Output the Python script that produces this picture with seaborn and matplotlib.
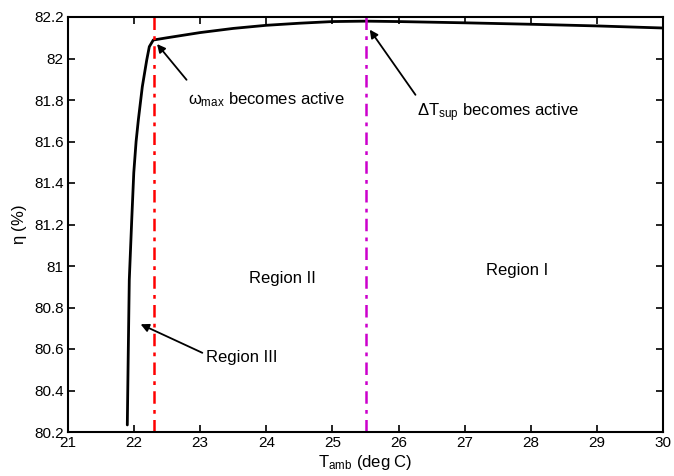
import matplotlib
matplotlib.use("Agg")
import matplotlib.pyplot as plt
import seaborn as sns
import pandas as pd

# data
t_amb = [21.897, 21.912, 21.927, 21.964, 21.995, 22.03, 22.064, 22.124, 22.191, 22.23, 22.29,
         22.5, 23.0, 23.5, 24.0, 24.5, 25.0, 25.5, 26.0, 27.0, 28.0, 29.0, 30.0]
eta = [80.234, 80.595, 80.933, 81.222, 81.45, 81.60, 81.704, 81.864, 81.993, 82.057, 82.089,
       82.10, 82.125, 82.145, 82.16, 82.17, 82.178, 82.18, 82.178, 82.172, 82.165,
       82.157, 82.147]
limit_x = [22.3, 25.5]
limit_colors = ["#FF0000", "#CC00CC"]
x_ticks = [21, 22, 23, 24, 25, 26, 27, 28, 29, 30]
y_ticks = [80.2, 80.4, 80.6, 80.8, 81.0, 81.2, 81.4, 81.6, 81.8, 82.0, 82.2]
y_tick_labels = ["80.2", "80.4", "80.6", "80.8", "81", "81.2", "81.4", "81.6", "81.8", "82", "82.2"]

sns.set_style("ticks")
plt.rcParams["font.family"] = ["Liberation Sans", "DejaVu Sans"]
plt.rcParams["mathtext.fontset"] = "custom"
plt.rcParams["mathtext.rm"] = "Liberation Sans"
plt.rcParams["mathtext.it"] = "Liberation Sans"
plt.rcParams["text.color"] = "black"
plt.rcParams["axes.labelcolor"] = "black"

fig = plt.figure(figsize=(6.74, 4.76), dpi=100)
ax = fig.add_axes([68 / 674, 1 - 432 / 476, (663 - 68) / 674, (432 - 17) / 476])

df = pd.DataFrame({"T": t_amb, "eta": eta})
sns.lineplot(data=df, x="T", y="eta", ax=ax, color="black", linewidth=2, sort=False)

for xv, c in zip(limit_x, limit_colors):
    ax.axvline(xv, color=c, linestyle=(0, (5, 2.5, 1.5, 2.5)), linewidth=1.8)

ax.set_xlim(21, 30)
ax.set_ylim(80.2, 82.2)
ax.set_xticks(x_ticks)
ax.set_xticklabels([str(v) for v in x_ticks])
ax.set_yticks(y_ticks)
ax.set_yticklabels(y_tick_labels)
ax.tick_params(direction="in", top=True, right=True, length=5, width=1.2,
               labelsize=11, colors="black", pad=3)
for s in ax.spines.values():
    s.set_linewidth(1.5)
    s.set_color("black")

ax.set_xlabel(r"T$_{\mathrm{amb}}$ (deg C)", fontsize=12, labelpad=2, color="black")
ax.set_ylabel(r"$\eta$ (%)", fontsize=12, labelpad=4, color="black")

arrow = dict(arrowstyle="-|>", color="black", lw=1.3, mutation_scale=12)
ax.annotate("", xy=(22.32, 82.08), xytext=(22.82, 81.887), arrowprops=arrow)
ax.text(22.82, 81.80, r"$\omega_{\mathrm{max}}$ becomes active", fontsize=12,
        ha="left", va="center", color="black")
ax.annotate("", xy=(25.54, 82.15), xytext=(26.28, 81.814), arrowprops=arrow)
ax.text(26.28, 81.74, r"$\Delta$T$_{\mathrm{sup}}$ becomes active", fontsize=12,
        ha="left", va="center", color="black")
ax.annotate("", xy=(22.06, 80.725), xytext=(23.07, 80.576), arrowprops=arrow)
ax.text(23.08, 80.56, "Region III", fontsize=12, ha="left", va="center", color="black")
ax.text(24.25, 80.94, "Region II", fontsize=12, ha="center", va="center", color="black")
ax.text(27.79, 80.98, "Region I", fontsize=12, ha="center", va="center", color="black")

fig.savefig("out.png", dpi=100)
